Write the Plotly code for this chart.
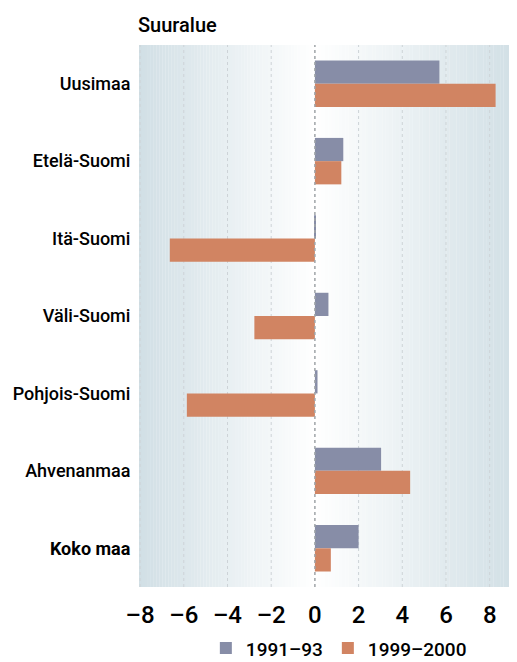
import plotly.graph_objects as go

regions = ["Uusimaa", "Etelä-Suomi", "Itä-Suomi", "Väli-Suomi",
           "Pohjois-Suomi", "Ahvenanmaa", "Koko maa"]
region_labels = ["Uusimaa", "Etelä-Suomi", "Itä-Suomi", "Väli-Suomi",
                 "Pohjois-Suomi", "Ahvenanmaa", "<b>Koko maa</b>"]
vals_1991_93 = [5.7, 1.3, 0.03, 0.62, 0.12, 3.03, 2.0]
vals_1999_2000 = [8.27, 1.21, -6.64, -2.77, -5.86, 4.36, 0.73]
tick_vals = [-8, -6, -4, -2, 0, 2, 4, 6, 8]
tick_text = ["–8", "–6", "–4", "–2", "0", "2", "4", "6", "8"]

FONT = "Roboto, Liberation Sans, sans-serif"
x_min, x_max = -8.05, 9.25

fig = go.Figure()
fig.add_trace(go.Bar(y=regions, x=vals_1991_93, orientation="h", name="1991–93",
                     marker=dict(color="#878da7", line=dict(width=0))))
fig.add_trace(go.Bar(y=regions, x=vals_1999_2000, orientation="h", name="1999–2000",
                     marker=dict(color="#d18462", line=dict(width=0))))

# horizontal gradient background: white at zero, blue-grey at the edges
edge = (209, 223, 229)
n = 60
shapes = []
for side_lo, side_hi in [(x_min, 0), (0, x_max)]:
    step = (side_hi - side_lo) / n
    span = abs(side_lo if side_lo < 0 else side_hi)
    for i in range(n):
        a = side_lo + i * step
        b = a + step
        t = min(1.0, abs((a + b) / 2) / span)
        c = tuple(round(255 + (e - 255) * t) for e in edge)
        shapes.append(dict(type="rect", xref="x", yref="paper", x0=a, x1=b + step * 0.05,
                           y0=0, y1=1, fillcolor="rgb(%d,%d,%d)" % c,
                           line=dict(width=0), layer="below"))
for v in tick_vals:
    if v != 0:
        shapes.append(dict(type="line", xref="x", yref="paper", x0=v, x1=v, y0=0, y1=1,
                           line=dict(color="#cdd3d7", width=1, dash="dot"), layer="below"))
shapes.append(dict(type="line", xref="x", yref="paper", x0=0, x1=0, y0=0, y1=1,
                   line=dict(color="#a0a4a8", width=1.5, dash="dot"), layer="above"))

# the page body adds an 8px margin, so the figure is a bit smaller than the window
fig.update_layout(
    width=509, height=654,
    margin=dict(l=131, r=0, t=37, b=75),
    paper_bgcolor="white", plot_bgcolor="white",
    barmode="group", bargap=0.4, bargroupgap=0,
    font=dict(family=FONT, size=18, color="black"),
    shapes=shapes,
    showlegend=True,
    legend=dict(orientation="h", xref="container", yref="container",
                x=0.65, xanchor="center", y=0.021, yanchor="middle",
                font=dict(size=19, weight=500), traceorder="normal", itemwidth=30,
                bgcolor="rgba(0,0,0,0)"),
    annotations=[dict(text="Suuralue", xref="paper", yref="paper", x=-0.008, y=1.037,
                      xanchor="left", yanchor="middle", showarrow=False,
                      font=dict(size=20, weight=500))],
)
fig.update_xaxes(range=[x_min, x_max], tickvals=tick_vals, ticktext=tick_text,
                 showgrid=False, zeroline=False, tickfont=dict(size=24, weight=500),
                 ticks="outside", ticklen=6, tickcolor="rgba(0,0,0,0)", automargin=False)
fig.update_yaxes(autorange="reversed", tickvals=regions, ticktext=region_labels,
                 showgrid=False, ticks="outside", ticklen=4, tickcolor="rgba(0,0,0,0)",
                 tickfont=dict(size=18, weight=500), automargin=False)

fig.write_html("out.html")
